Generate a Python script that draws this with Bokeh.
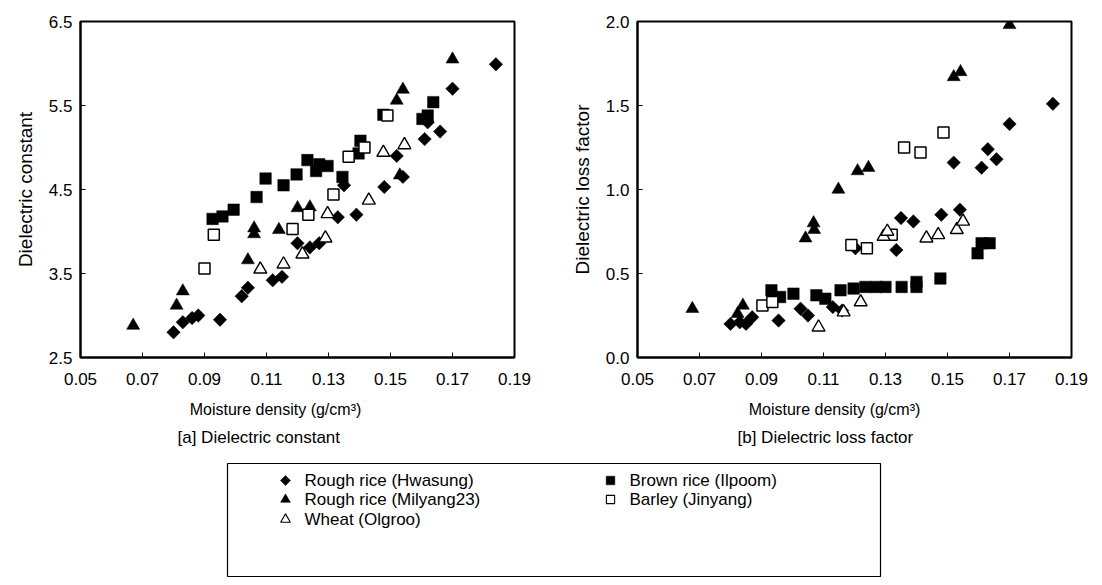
import numpy as np
from bokeh.plotting import figure
from bokeh.layouts import column, row
from bokeh.models import Range1d, FixedTicker, NumeralTickFormatter
from bokeh.embed import file_html
from bokeh.resources import INLINE
from bokeh.core.properties import value

FONT = "Liberation Sans"

# ---------------- data: [a] dielectric constant ----------------
a_hw_x = [0.080, 0.083, 0.086, 0.088, 0.095, 0.102, 0.104, 0.112, 0.115, 0.120, 0.124, 0.127,
          0.133, 0.135, 0.139, 0.148, 0.152, 0.154, 0.161, 0.162, 0.166, 0.170, 0.184]
a_hw_y = [2.80, 2.92, 2.97, 3.00, 2.95, 3.23, 3.33, 3.42, 3.46, 3.86, 3.81, 3.86,
          4.17, 4.55, 4.20, 4.53, 4.90, 4.65, 5.10, 5.30, 5.19, 5.70, 5.99]
a_mil_x = [0.067, 0.081, 0.083, 0.104, 0.106, 0.106, 0.114, 0.120, 0.124, 0.152, 0.154, 0.153, 0.170]
a_mil_y = [2.88, 3.12, 3.29, 3.66, 3.97, 4.04, 4.02, 4.28, 4.29, 5.56, 5.69, 4.67, 6.05]
a_wh_x = [0.108, 0.1155, 0.1216, 0.129, 0.1297, 0.143, 0.1477, 0.1545]
a_wh_y = [3.55, 3.61, 3.73, 3.92, 4.21, 4.37, 4.94, 5.03]
a_br_x = [0.0926, 0.0958, 0.0994, 0.1068, 0.1097, 0.1155, 0.1197, 0.1232, 0.126, 0.127,
          0.1297, 0.1345, 0.1397, 0.1403, 0.1477, 0.1603, 0.162, 0.1638]
a_br_y = [4.15, 4.18, 4.26, 4.41, 4.63, 4.55, 4.68, 4.85, 4.72, 4.80,
          4.78, 4.65, 4.93, 5.08, 5.39, 5.34, 5.38, 5.54]
a_ba_x = [0.090, 0.093, 0.1184, 0.1235, 0.1316, 0.1365, 0.1416, 0.149]
a_ba_y = [3.56, 3.96, 4.03, 4.20, 4.44, 4.89, 5.00, 5.38]

# ---------------- data: [b] dielectric loss factor ----------------
b_hw_x = [0.080, 0.083, 0.085, 0.087, 0.0955, 0.1026, 0.105, 0.113, 0.116, 0.1203, 0.1335,
          0.135, 0.139, 0.148, 0.154, 0.152, 0.161, 0.163, 0.1658, 0.170, 0.184]
b_hw_y = [0.20, 0.21, 0.20, 0.24, 0.22, 0.29, 0.25, 0.30, 0.28, 0.65, 0.64,
          0.83, 0.81, 0.85, 0.88, 1.16, 1.13, 1.24, 1.18, 1.39, 1.51]
b_mil_x = [0.0677, 0.0823, 0.084, 0.1042, 0.1068, 0.107, 0.1148, 0.121, 0.1245, 0.152, 0.1542, 0.170]
b_mil_y = [0.29, 0.26, 0.31, 0.71, 0.80, 0.76, 1.00, 1.11, 1.13, 1.67, 1.70, 1.98]
b_wh_x = [0.1084, 0.1165, 0.122, 0.1294, 0.1306, 0.1432, 0.147, 0.153, 0.155]
b_wh_y = [0.18, 0.27, 0.33, 0.72, 0.75, 0.71, 0.73, 0.76, 0.81]
b_br_x = [0.0932, 0.096, 0.1003, 0.1077, 0.1106, 0.1155, 0.1197, 0.1235, 0.127, 0.130,
          0.1352, 0.140, 0.140, 0.1477, 0.1597, 0.161, 0.1636]
b_br_y = [0.40, 0.36, 0.38, 0.37, 0.35, 0.40, 0.41, 0.42, 0.42, 0.42,
          0.42, 0.45, 0.42, 0.47, 0.62, 0.68, 0.68]
b_ba_x = [0.0903, 0.0935, 0.119, 0.124, 0.132, 0.136, 0.1413, 0.1487]
b_ba_y = [0.31, 0.33, 0.67, 0.65, 0.73, 1.25, 1.22, 1.34]

x_ticks = [0.05, 0.07, 0.09, 0.11, 0.13, 0.15, 0.17, 0.19]
a_y_ticks = [2.5, 3.5, 4.5, 5.5, 6.5]
b_y_ticks = [0.0, 0.5, 1.0, 1.5, 2.0]

x_label = "Moisture density (g/cm\u00b3)"
a_y_label = "Dielectric constant"
b_y_label = "Dielectric loss factor"
a_title = "[a] Dielectric constant"
b_title = "[b] Dielectric loss factor"

series_names = ["Rough rice (Hwasung)", "Rough rice (Milyang23)", "Wheat (Olgroo)",
                "Brown rice (Ilpoom)", "Barley (Jinyang)"]

STYLES = {
    "hw": dict(marker="square", angle=np.pi / 4, size=9.5, fill_color="black", line_color="black", line_width=0.5),
    "mil": dict(marker="triangle", size=13, fill_color="black", line_color="black", line_width=0.5),
    "wh": dict(marker="triangle", size=13, fill_color="white", line_color="black", line_width=1.4),
    "br": dict(marker="square", size=11.5, fill_color="black", line_color="black", line_width=0.5),
    "ba": dict(marker="square", size=11, fill_color="white", line_color="black", line_width=1.5),
}

TOP_H = 395


def make_panel(width, left, right, top, yr, yticks, yfmt, ylabel, data):
    p = figure(width=width, height=TOP_H, output_backend="svg", toolbar_location=None,
               x_range=Range1d(0.05, 0.19), y_range=Range1d(*yr),
               min_border_left=left, min_border_right=right, min_border_top=top,
               min_border_bottom=TOP_H - 357)
    p.grid.visible = False
    p.outline_line_color = "black"
    p.outline_line_width = 2
    p.xaxis.ticker = FixedTicker(ticks=x_ticks)
    p.yaxis.ticker = FixedTicker(ticks=yticks)
    p.xaxis.formatter = NumeralTickFormatter(format="0.00")
    p.yaxis.formatter = NumeralTickFormatter(format=yfmt)
    for ax in (p.xaxis, p.yaxis):
        ax.axis_line_width = 2
        ax.major_tick_in = 5
        ax.major_tick_out = 0
        ax.minor_tick_line_color = None
        ax.major_label_text_font = FONT
        ax.major_label_text_font_size = "17px"
        ax.major_label_text_color = "black"
    p.xaxis.major_label_standoff = 15
    p.yaxis.major_label_standoff = 8
    p.yaxis.axis_label = ylabel
    p.yaxis.axis_label_text_font = FONT
    p.yaxis.axis_label_text_font_size = "19px"
    p.yaxis.axis_label_text_font_style = "normal"
    p.yaxis.axis_label_text_color = "black"
    p.yaxis.axis_label_standoff = 10
    for key, xs, ys in data:
        p.scatter(xs, ys, **STYLES[key])
    return p


p1 = make_panel(560, 80, 46, 19, (2.5, 6.5), a_y_ticks, "0.0", a_y_label,
                [("br", a_br_x, a_br_y), ("hw", a_hw_x, a_hw_y), ("mil", a_mil_x, a_mil_y),
                 ("ba", a_ba_x, a_ba_y), ("wh", a_wh_x, a_wh_y)])
p2 = make_panel(542, 77, 31, 21, (0.0, 2.0), b_y_ticks, "0.0", b_y_label,
                [("br", b_br_x, b_br_y), ("hw", b_hw_x, b_hw_y), ("mil", b_mil_x, b_mil_y),
                 ("ba", b_ba_x, b_ba_y), ("wh", b_wh_x, b_wh_y)])

# ---------------- bottom: x labels, subtitles, legend ----------------
p3 = figure(width=1102, height=585 - TOP_H, output_backend="svg", toolbar_location=None,
            x_range=Range1d(0, 1102), y_range=Range1d(585, TOP_H),
            x_axis_location=None, y_axis_location=None,
            min_border_left=0, min_border_right=0, min_border_top=0, min_border_bottom=0)
p3.grid.visible = False
p3.outline_line_color = None

p3.text(x=[275, 834], y=[409, 409], text=[x_label, x_label],
        text_font=value(FONT), text_font_size="16px", text_baseline="middle", text_align="center",
        text_color="black")
p3.text(x=[177, 737], y=[437, 437], text=[a_title, b_title],
        text_font=value(FONT), text_font_size="17px", text_baseline="middle", text_align="left",
        text_color="black")

p3.quad(left=[227], right=[880], top=[463], bottom=[576], fill_color=None,
        line_color="black", line_width=1.2)

leg_keys = ["hw", "mil", "wh", "br", "ba"]
leg_mx = [285, 285, 285, 610, 610]
leg_y = [480, 499, 519, 480, 499]
for k, mx, my, name in zip(leg_keys, leg_mx, leg_y, series_names):
    st = dict(STYLES[k])
    st["size"] = st["size"] * 0.75
    if k in ("wh", "ba"):
        st["line_width"] = 1.1
    p3.scatter([mx], [my], **st)
p3.text(x=[m + 19 for m in leg_mx], y=leg_y, text=series_names,
        text_font=value(FONT), text_font_size="17px", text_baseline="middle", text_align="left",
        text_color="black")

layout = column(row(p1, p2), p3)
open("out.html", "w").write(file_html(layout, INLINE))
